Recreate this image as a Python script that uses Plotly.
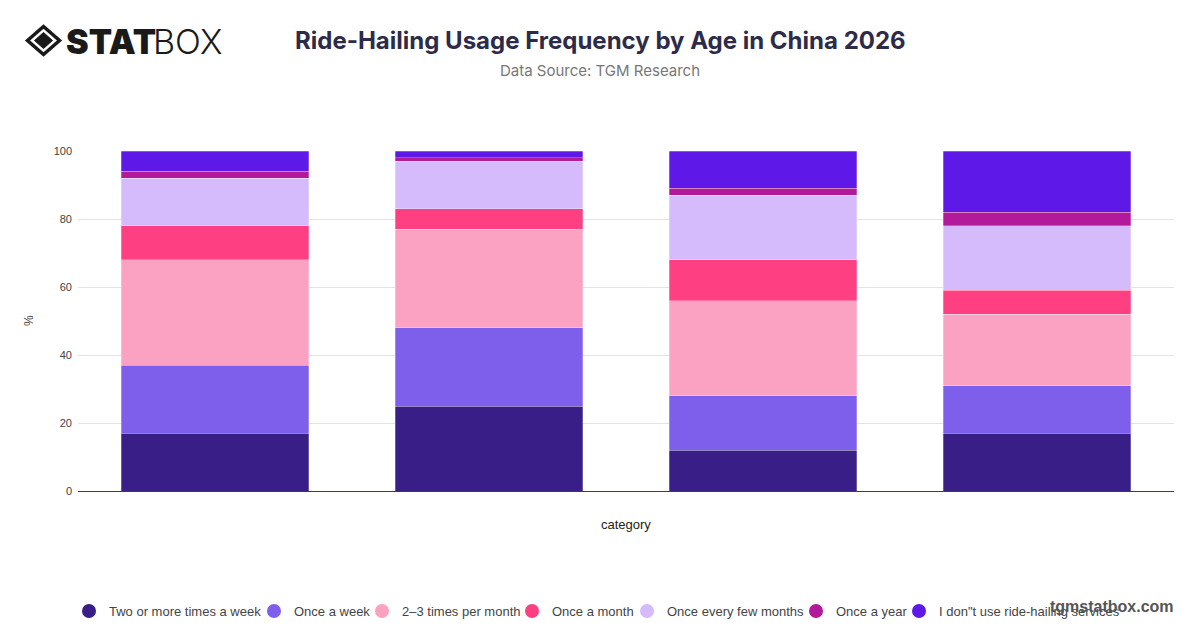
import plotly.graph_objects as go

# data (percent of respondents per age group)
categories = ['18-24', '25-34', '35-44', '45+']
two_plus_week = [17, 25, 12, 17]
once_week = [20, 23, 16, 14]
two_three_month = [31, 29, 28, 21]
once_month = [10, 6, 12, 7]
few_months = [14, 14, 19, 19]
once_year = [2, 1, 2, 4]
dont_use = [6, 2, 11, 18]

series = [
    ('Two or more times a week', two_plus_week, '#381E86'),
    ('Once a week', once_week, '#7D5FEC'),
    ('2–3 times per month', two_three_month, '#FBA1C2'),
    ('Once a month', once_month, '#FE3F82'),
    ('Once every few months', few_months, '#D5BBFB'),
    ('Once a year', once_year, '#B2199B'),
    ('I don"t use ride-hailing services', dont_use, '#5E19E9'),
]

W, H = 1200, 628
OFF = 8  # page body margin shifts the figure by this much
# plot area in screen pixels
X0, X1, Y0, Y1 = 78, 1174, 151, 491
L, R, T, B = X0 - OFF, W - (X1 - OFF), Y0 - OFF, H - (Y1 - OFF)

# legend marker centres (px) so the entries sit tight like the original
legend_px = [89, 274, 382, 532, 647, 816, 919]


def px(x):
    return (x - X0) / (X1 - X0)


def py(y):
    return (Y1 - y) / (Y1 - Y0)


fig = go.Figure()

for name, vals, color in series:
    fig.add_bar(
        x=categories, y=vals, name=name,
        marker=dict(color=color, line=dict(width=0.6, color='rgba(255,255,255,0.45)')),
        showlegend=False,
    )

# circle legend entries, one small legend each
legends = {}
for i, (name, vals, color) in enumerate(series):
    key = 'legend' if i == 0 else f'legend{i + 1}'
    fig.add_scatter(
        x=[None], y=[None], mode='markers', name=name, legend=key,
        marker=dict(color=color, size=14, symbol='circle'),
    )
    legends[key] = dict(
        orientation='h', x=px(legend_px[i] - 20), xanchor='left',
        y=py(611), yanchor='middle', bgcolor='rgba(0,0,0,0)',
        font=dict(size=13, color='#444'), itemsizing='trace',
    )

fig.update_layout(
    width=W, height=H,
    barmode='stack', bargap=0.314,
    plot_bgcolor='white', paper_bgcolor='white',
    margin=dict(l=L, r=R, t=T, b=B, autoexpand=False),
    font=dict(family='Liberation Sans, Arial, sans-serif', color='#444'),
    **legends,
)
fig.update_yaxes(
    range=[0, 100], dtick=20, gridcolor='#e3e3e3', gridwidth=1,
    tickfont=dict(size=11, color='#444'), ticks='', zeroline=False,
    showline=False, ticklabelstandoff=5,
)
fig.update_xaxes(
    showticklabels=False, showgrid=False, showline=True,
    linecolor='#3d3d4d', linewidth=1.2, ticks='',
)

notes = [
    dict(text='<b>Ride-Hailing Usage Frequency by Age in China 2026</b>',
         x=px(600), y=py(40), font=dict(family='Inter', size=24, color='#2D2B4A')),
    dict(text='Data Source: TGM Research',
         x=px(600), y=py(71), font=dict(family='Inter', size=15, color='#777')),
    dict(text='%', x=px(29), y=py(321), textangle=-90,
         font=dict(size=12, color='#444')),
    dict(text='category', x=px(626), y=py(524),
         font=dict(size=13, color='#222')),
    dict(text='<b>tgmstatbox.com</b>', x=px(1176), y=py(606), xanchor='right',
         font=dict(family='Liberation Sans', size=16, color='#555')),
    dict(text='STAT', x=px(64), y=py(41), xanchor='left',
         font=dict(family='Inter', size=34, color='#1a1a1a', weight=900)),
    dict(text='BOX', x=px(151), y=py(41), xanchor='left',
         font=dict(family='Inter', size=34, color='#1a1a1a', weight=300)),
]
for n in notes:
    n.setdefault('xanchor', 'center')
    fig.add_annotation(xref='paper', yref='paper', showarrow=False,
                       yanchor='middle', **n)

# logo diamond icon
cx, cy, rx, ry = 43.5, 40.5, 16, 14
outer = (f'M {px(cx - rx)} {py(cy)} L {px(cx)} {py(cy - ry)} '
         f'L {px(cx + rx)} {py(cy)} L {px(cx)} {py(cy + ry)} Z')
fig.add_shape(type='path', xref='paper', yref='paper', path=outer,
              line=dict(color='#1a1a1a', width=3.5))
ix, iy = 9, 8
inner = (f'M {px(cx - ix)} {py(cy)} L {px(cx)} {py(cy - iy)} '
         f'L {px(cx + ix)} {py(cy)} L {px(cx)} {py(cy + iy)} Z')
fig.add_shape(type='path', xref='paper', yref='paper', path=inner,
              fillcolor='#1a1a1a', line=dict(color='#1a1a1a', width=1))

fig.write_html('out.html')
